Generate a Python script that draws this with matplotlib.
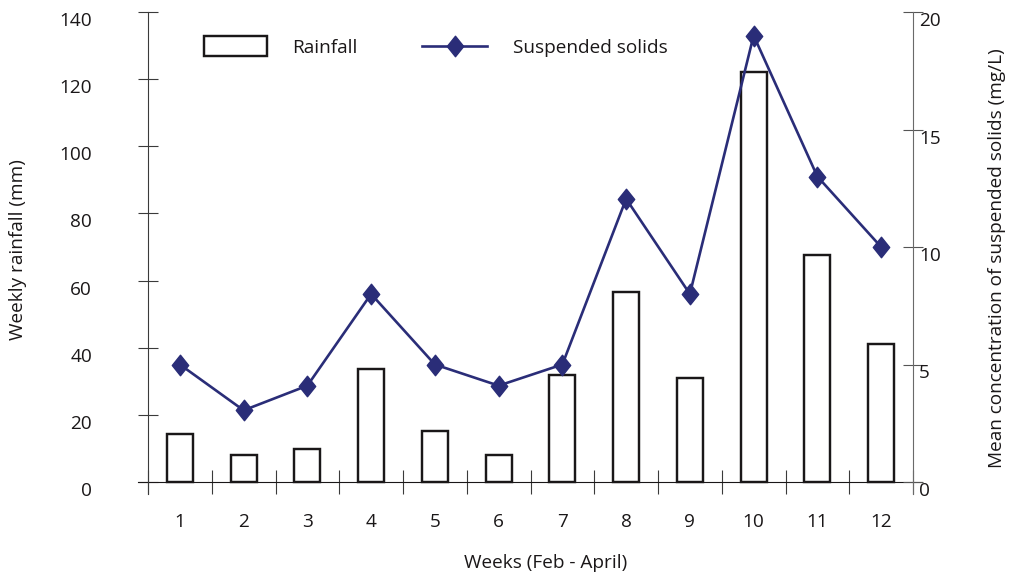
import matplotlib
matplotlib.use('Agg')
import matplotlib.pyplot as plt
from matplotlib.path import Path
from matplotlib.patches import Rectangle
from matplotlib.lines import Line2D
import numpy as np

# ---------------- data ----------------
weeks = list(range(1, 13))
week_labels = [str(w) for w in weeks]
rainfall = [14.2, 8.0, 9.9, 33.8, 15.3, 8.0, 32.0, 56.7, 31.0, 122.0, 67.5, 41.0]
solids = [5.0, 3.05, 4.1, 8.0, 5.0, 4.1, 5.0, 12.05, 8.0, 19.0, 13.0, 10.0]
rain_ticks = [0, 20, 40, 60, 80, 100, 120, 140]
solid_ticks = [0, 5, 10, 15, 20]
x_title = "Weeks (Feb - April)"
y_left_title = "Weekly rainfall (mm)"
y_right_title = "Mean concentration of suspended solids (mg/L)"
legend_labels = ["Rainfall", "Suspended solids"]

# ---------------- style ----------------
plt.rcParams['font.family'] = ['Open Sans', 'DejaVu Sans']
TXT = '#1a1718'
NAVY = '#2a2d78'
AXC = '#3a3a3a'
FS = 13.7

W, H, DPI = 1011, 576, 100
def pt(p):
    return p * 72.0 / DPI

fig = plt.figure(figsize=(W / DPI, H / DPI), dpi=DPI)
fig.patch.set_facecolor('white')

ax_left, ax_right, ax_top, ax_bot = 148, 913, 12, 494
zero_px = 482
ax = fig.add_axes([ax_left / W, (H - ax_bot) / H, (ax_right - ax_left) / W, (ax_bot - ax_top) / H])
ax.set_xlim(0.5, 12.5)
ax.set_ylim(-(ax_bot - zero_px) * 140 / (zero_px - ax_top), 140)

ax2 = ax.twinx()
ax2.set_ylim(-(ax_bot - zero_px) * 20 / (zero_px - ax_top), 20)

# bars
ax.bar(weeks, rainfall, width=0.41, facecolor='white', edgecolor=TXT, linewidth=1.75, zorder=3)

# diamond marker (taller than wide)
diamond = Path([(0, 1), (0.8, 0), (0, -1), (-0.8, 0), (0, 1)],
               [Path.MOVETO, Path.LINETO, Path.LINETO, Path.LINETO, Path.CLOSEPOLY])
ax2.plot(weeks, solids, color=NAVY, linewidth=1.9, marker=diamond,
         markersize=pt(20.5), markerfacecolor=NAVY, markeredgecolor=NAVY, zorder=4)

# spines
for s in ['top', 'right']:
    ax.spines[s].set_visible(False)
ax.spines['bottom'].set_position(('data', 0))
ax.spines['bottom'].set_color('none')
ax.spines['left'].set_color(AXC)
ax.spines['left'].set_linewidth(0.8)
for s in ['top', 'left', 'bottom']:
    ax2.spines[s].set_visible(False)
ax2.spines['right'].set_color('#6a6a6a')
ax2.spines['right'].set_linewidth(0.8)

# horizontal baseline extending past both axes
ax.axhline(0, xmin=-10 / (ax_right - ax_left), xmax=1 + 9 / (ax_right - ax_left),
           color=TXT, linewidth=0.8, clip_on=False, zorder=2)

# x ticks
ax.set_xticks(weeks, week_labels)
ax.set_xticks(np.arange(0.5, 13, 1.0), minor=True)
ax.tick_params(axis='x', which='major', length=0, pad=pt(31), labelsize=FS, labelcolor=TXT)
ax.tick_params(axis='x', which='minor', length=pt(24), direction='inout', width=0.8, color=AXC)

# left y ticks
ax.set_yticks(rain_ticks)
ax.tick_params(axis='y', direction='inout', length=pt(20), width=0.8, color=AXC,
               pad=pt(46), labelsize=FS, labelcolor=TXT)
for t in ax.get_yticklabels():
    t.set_va('top')

# right y ticks
ax2.set_yticks(solid_ticks)
ax2.tick_params(axis='y', direction='inout', length=pt(20), width=0.8, color='#555555',
                pad=pt(-4), labelsize=FS, labelcolor=TXT)
for t in ax2.get_yticklabels():
    t.set_va('top')

# axis titles
fig.text(546 / W, 1 - 563 / H, x_title, ha='center', va='center', fontsize=FS, color=TXT)
fig.text(18 / W, 1 - 250 / H, y_left_title, ha='center', va='center', rotation=90, fontsize=FS, color=TXT)
fig.text(997 / W, 1 - 258 / H, y_right_title, ha='center', va='center', rotation=90, fontsize=FS, color=TXT)

# legend (drawn manually)
fig.add_artist(Rectangle((204 / W, 1 - 56 / H), 63 / W, 20 / H, transform=fig.transFigure,
                         fill=False, edgecolor=TXT, linewidth=1.75))
fig.text(292 / W, 1 - 53 / H, legend_labels[0], ha='left', va='baseline', fontsize=FS, color=TXT)
fig.add_artist(Line2D([422 / W, 487 / W], [1 - 46 / H, 1 - 46 / H], transform=fig.transFigure,
                      color=NAVY, linewidth=1.9))
fig.add_artist(Line2D([455 / W], [1 - 46 / H], transform=fig.transFigure, linestyle='none',
                      marker=diamond, markersize=pt(20.5), color=NAVY))
fig.text(513 / W, 1 - 53 / H, legend_labels[1], ha='left', va='baseline', fontsize=FS, color=TXT)

fig.savefig('out.png', dpi=DPI)
